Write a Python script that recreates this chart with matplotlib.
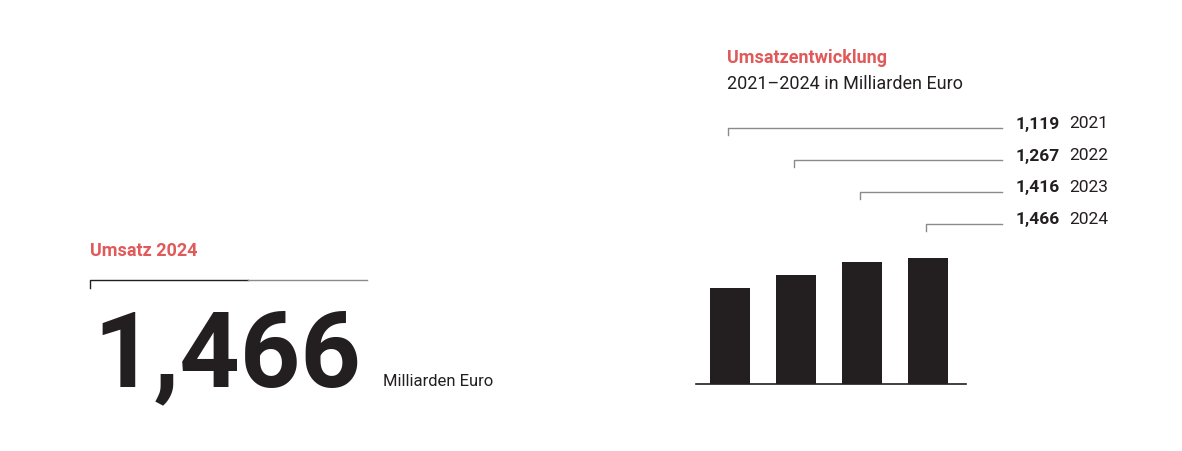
import matplotlib.pyplot as plt
from matplotlib.lines import Line2D

# Daten
jahre = ['2021', '2022', '2023', '2024']
umsatz = [1.119, 1.267, 1.416, 1.466]
umsatz_label = ['1,119', '1,267', '1,416', '1,466']
umsatz_2024 = '1,466'

rot = '#e05a5a'
dunkel = '#231f20'
grau = '#8a8a8a'

plt.rcParams['font.family'] = ['Roboto', 'DejaVu Sans']

W, H = 1182, 452
fig = plt.figure(figsize=(W / 100, H / 100), dpi=100)
fig.patch.set_facecolor('white')


def fx(px):
    return px / W


def fy(py):
    # py von oben gemessen
    return 1 - py / H


# Balkendiagramm
ax = fig.add_axes([fx(696), fy(385), fx(966 - 696), (1.6 * 86) / H])
x = range(len(jahre))
ax.bar(x, umsatz, width=0.606, color=dunkel)
ax.set_xlim(-0.515, 3.576)
ax.set_ylim(0, 1.6)
ax.axhline(0, color=dunkel, lw=1.2, clip_on=False)
ax.axis('off')

# Titel rechts
fig.text(fx(727), fy(58), 'Umsatzentwicklung', color=rot, fontsize=13,
         fontweight='bold', va='center', ha='left')
fig.text(fx(727), fy(84), '2021\u20132024 in Milliarden Euro', color=dunkel,
         fontsize=13, va='center', ha='left')

# Führungslinien und Beschriftungen
fig.canvas.draw()
for i, (jahr, lab) in enumerate(zip(jahre, umsatz_label)):
    xc = ax.transData.transform((i, 0))[0] - 2
    yl = 129 + 32 * i
    fig.add_artist(Line2D([fx(xc), fx(xc), fx(1002)],
                          [fy(yl + 7), fy(yl), fy(yl)],
                          color=grau, lw=1.0, transform=fig.transFigure))
    fig.text(fx(1016), fy(yl - 5), lab, color=dunkel, fontsize=12.5,
             fontweight='bold', va='center', ha='left')
    fig.text(fx(1069), fy(yl - 5), jahr, color=dunkel, fontsize=12.5,
             va='center', ha='left')

# Linke Seite: Umsatz 2024
fig.text(fx(90), fy(251), 'Umsatz 2024', color=rot, fontsize=13,
         fontweight='bold', va='center', ha='left')
fig.add_artist(Line2D([fx(90), fx(90), fx(248)], [fy(289), fy(281), fy(281)],
                      color=dunkel, lw=1.0, transform=fig.transFigure))
fig.add_artist(Line2D([fx(248), fx(367)], [fy(281), fy(281)],
                      color=grau, lw=1.0, transform=fig.transFigure))
fig.text(fx(93), fy(386), umsatz_2024, color=dunkel, fontsize=76,
         fontweight='bold', va='baseline', ha='left')
fig.text(fx(383), fy(381), 'Milliarden Euro', color=dunkel, fontsize=12,
         va='center', ha='left')

fig.savefig('out.png', dpi=100, facecolor='white')
